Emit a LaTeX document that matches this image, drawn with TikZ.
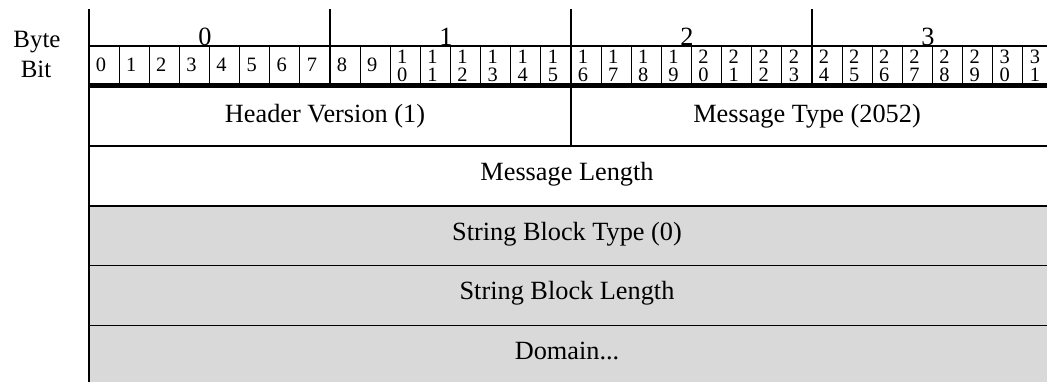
\documentclass[tikz,border=0pt]{standalone}
\usepackage{fontspec}
\setmainfont{Liberation Serif}
\definecolor{rowgray}{HTML}{D9D9D9}
\begin{document}
\begin{tikzpicture}[x=1bp,y=-1bp,
  lbl/.style={font=\fontsize{26.4}{30}\selectfont, inner sep=0pt, anchor=base},
  side/.style={font=\fontsize{25}{30}\selectfont, inner sep=0pt, anchor=base},
  bitnum/.style={font=\fontsize{20.5}{20}\selectfont, inner sep=0pt, anchor=base},
  thinline/.style={line width=1bp},
  midline/.style={line width=2bp},
  rowline/.style={line width=1.6bp},
  ]
\useasboundingbox (0,0) rectangle (1047,381);
\begin{scope}
\clip (0,0) rectangle (1047,381);
\fill[rowgray] (89,206) rectangle (1060,390);
\foreach \i in {1,...,31} { \draw[thinline] ({89+30.125*\i},46) -- ({89+30.125*\i},84); }
\foreach \i in {1,3} { \draw[midline] ({89+241*\i},9) -- ({89+241*\i},84); }
\draw[midline] (571,9) -- (571,146);
\draw[midline] (89,46) -- (1060,46);
\draw[line width=5bp] (89,85.8) -- (1060,85.8);
\draw[midline] (89,146) -- (1060,146);
\draw[midline] (89,206) -- (1060,206);
\draw[rowline] (89,265.3) -- (1060,265.3);
\draw[rowline] (89,325.3) -- (1060,325.3);
\draw[midline] (89,9) -- (89,390);
\end{scope}
% side labels
\node[side] (byte) at (37,47) {Byte};
\node[side] (bit) at (36,77) {Bit};
% byte numbers
\node[lbl] (byte0) at (205,45) {0};
\node[lbl] (byte1) at (446,45) {1};
\node[lbl] (byte2) at (687,45) {2};
\node[lbl] (byte3) at (928,45) {3};
% bit numbers
\foreach \i in {0,...,9} { \node[bitnum] (bit\i) at ({89+30.125*(\i+0.5)-3},71) {\i}; }
\foreach \i in {10,...,31} {
  \pgfmathtruncatemacro\bitT{int(\i/10)}
  \pgfmathtruncatemacro\bitU{mod(\i,10)}
  \node[bitnum] (bit\i a) at ({89+30.125*(\i+0.5)-3},63) {\bitT};
  \node[bitnum] (bit\i b) at ({89+30.125*(\i+0.5)-3},81.5) {\bitU};
}
% fields
\node[lbl] (hdr) at (325,122) {Header Version (1)};
\node[lbl] (mtype) at (807,122) {Message Type (2052)};
\node[lbl] (mlen) at (567,180) {Message Length};
\node[lbl] (sbt) at (567,240) {String Block Type (0)};
\node[lbl] (sbl) at (567,299) {String Block Length};
\node[lbl] (dom) at (567,359) {Domain...};
\end{tikzpicture}
\end{document}
